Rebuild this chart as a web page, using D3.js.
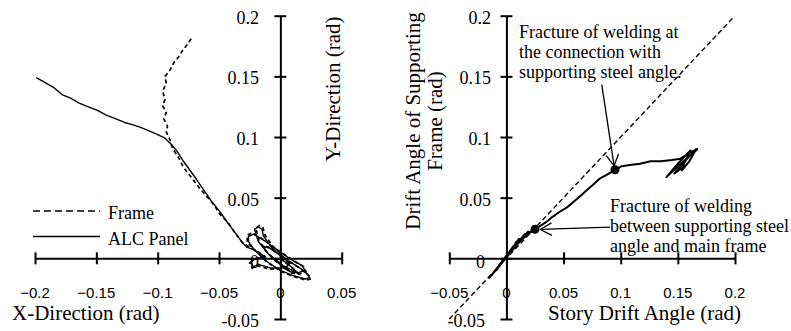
<!DOCTYPE html>
<html><head><meta charset="utf-8">
<script src="https://cdn.jsdelivr.net/npm/d3@7"></script>
<style>
body{margin:0;background:#fff}
svg{display:block}
.serif{font-family:"Liberation Serif","Times New Roman",serif;fill:#000}
.sans{font-family:"Liberation Sans",Arial,sans-serif;fill:#000}
</style></head>
<body>
<svg id="c" width="791" height="331"></svg>
<script>
// ---------- data ----------
const leftXTicks = [-0.2, -0.15, -0.1, -0.05, 0, 0.05];
const leftXTickLabels = ["\u22120.2", "\u22120.15", "\u22120.1", "\u22120.05", "0", "0.05"];
const leftYTicks = [-0.05, 0, 0.05, 0.1, 0.15, 0.2];
const leftYTickLabels = ["-0.05", "0", "0.05", "0.1", "0.15", "0.2"];
const rightXTicks = [-0.05, 0, 0.05, 0.1, 0.15, 0.2];
const rightXTickLabels = ["\u22120.05", "0", "0.05", "0.1", "0.15", "0.2"];
const rightYTicks = [-0.05, 0, 0.05, 0.1, 0.15, 0.2];
const rightYTickLabels = ["-0.05", "0", "0.05", "0.1", "0.15", "0.2"];

const seriesNames = ["Frame", "ALC Panel"];

// X-Direction vs Y-Direction drift (rad)
const alcPanel = [
  [0,0],[0.01,-0.008],[0.014,-0.012],[0.008,-0.011],[-0.004,-0.002],[-0.012,0.006],[-0.014,0.01],[-0.008,0.008],[0.002,0.001],
  [0.016,-0.008],[0.022,-0.013],[0.024,-0.016],[0.02,-0.017],[0.01,-0.014],[0,-0.01],[-0.012,-0.002],[-0.022,0.008],[-0.026,0.014],[-0.026,0.018],[-0.022,0.02],[-0.012,0.014],[0,0.005],[0.012,-0.003],
  [0.018,-0.006],[0.02,-0.01],[0.014,-0.012],[0.002,-0.006],[-0.01,0.004],[-0.018,0.014],[-0.02,0.02],[-0.021,0.024],[-0.018,0.026],[-0.015,0.024],[-0.014,0.019],[-0.008,0.01],[0,0.002],
  [0.008,-0.004],[0.004,-0.008],[-0.008,-0.008],[-0.018,-0.005],[-0.022,-0.007],[-0.024,-0.003],[-0.02,0],[-0.012,0.001],[-0.018,0.005],[-0.024,0.008],[-0.027,0.009],
  [-0.031,0.013],[-0.036,0.02],[-0.042,0.028],[-0.049,0.038],[-0.056,0.047],[-0.063,0.057],[-0.069,0.066],[-0.074,0.073],[-0.079,0.08],[-0.084,0.088],[-0.089,0.094],[-0.094,0.099],[-0.1,0.102],[-0.107,0.105],[-0.114,0.108],[-0.12,0.11],[-0.127,0.112],[-0.134,0.115],[-0.142,0.118],[-0.149,0.122],[-0.157,0.125],[-0.164,0.128],[-0.171,0.132],[-0.178,0.135],[-0.185,0.141],[-0.192,0.145],[-0.199,0.149]
];
const frame = [
  [0,0],[0.011,-0.009],[0.015,-0.013],[0.009,-0.012],[-0.003,-0.003],[-0.011,0.005],[-0.015,0.011],[-0.009,0.009],[0.001,0.002],
  [0.017,-0.009],[0.023,-0.014],[0.025,-0.017],[0.021,-0.018],[0.011,-0.015],[0.001,-0.011],[-0.011,-0.003],[-0.021,0.007],[-0.027,0.013],[-0.027,0.019],[-0.023,0.021],[-0.013,0.015],[-0.001,0.006],[0.011,-0.002],
  [0.019,-0.007],[0.021,-0.011],[0.015,-0.013],[0.003,-0.007],[-0.009,0.003],[-0.017,0.013],[-0.019,0.021],[-0.02,0.025],[-0.017,0.027],[-0.014,0.025],[-0.013,0.02],[-0.007,0.011],[0.001,0.003],
  [0.007,-0.005],[0.003,-0.009],[-0.009,-0.009],[-0.019,-0.006],[-0.023,-0.008],[-0.025,-0.004],[-0.021,-0.001],[-0.013,0.002],[-0.019,0.006],[-0.025,0.009],[-0.028,0.011],
  [-0.031,0.013],[-0.037,0.021],[-0.043,0.03],[-0.049,0.036],[-0.054,0.044],[-0.06,0.051],[-0.066,0.058],[-0.072,0.066],[-0.079,0.075],[-0.083,0.083],[-0.088,0.091],[-0.09,0.098],[-0.093,0.104],[-0.092,0.109],[-0.095,0.115],[-0.093,0.12],[-0.096,0.126],[-0.094,0.131],[-0.096,0.138],[-0.093,0.144],[-0.094,0.15],[-0.09,0.155],[-0.087,0.161],[-0.083,0.166],[-0.08,0.171],[-0.076,0.176],[-0.072,0.182]
];

// Story drift angle vs drift angle of supporting frame (rad)
const supportingFrame = [
  [0,0],[0.006,0.01],[-0.005,-0.005],[0.001,0.003],[0.011,0.016],[-0.009,-0.01],[0,0.001],[0.016,0.02],[-0.013,-0.014],[-0.001,0.001],
  [0.019,0.022],[-0.015,-0.016],[0.002,0.004],[0.012,0.014],[0.021,0.022],[0.008,0.013],[0.025,0.024],[0.03,0.027],[0.035,0.03],[0.04,0.034],
  [0.046,0.038],[0.053,0.042],[0.058,0.046],[0.063,0.05],[0.07,0.056],[0.075,0.06],[0.082,0.066],[0.088,0.069],[0.095,0.073],[0.101,0.076],
  [0.108,0.077],[0.117,0.078],[0.126,0.08],[0.135,0.08],[0.145,0.081],[0.152,0.082],[0.16,0.087],[0.167,0.09],[0.155,0.08],[0.14,0.067],
  [0.15,0.078],[0.161,0.089],[0.154,0.075],[0.147,0.07],[0.158,0.082],[0.166,0.09],[0.16,0.08],[0.153,0.072]
];
const equalLine = [[-0.05,-0.05],[0.198,0.198]];
const fracturePoints = [[0.025,0.024],[0.095,0.073]];

const note1Lines = ["Fracture of welding at", "the connection with", "supporting steel angle."];
const note2Lines = ["Fracture of welding", "between supporting steel", "angle and main frame"];

// ---------- drawing ----------
const svg = d3.select("#c");

function drawAxes(xs, ys, xTicks, yTicks) {
  const gx = svg.append("g").attr("transform", `translate(0,${ys(0)})`)
    .call(d3.axisBottom(xs).tickValues(xTicks).tickSize(6).tickSizeOuter(0).tickFormat(""));
  gx.selectAll(".tick line").attr("y1", -6).attr("y2", 6);
  const gy = svg.append("g").attr("transform", `translate(${xs(0)},0)`)
    .call(d3.axisLeft(ys).tickValues(yTicks).tickSize(6).tickSizeOuter(0).tickFormat(""));
  gy.selectAll(".tick line").attr("x1", -6).attr("x2", 6);
  [gx, gy].forEach(g => {
    g.select(".domain").attr("stroke", "#000").attr("stroke-width", 2);
    g.selectAll(".tick line").attr("stroke", "#000").attr("stroke-width", 2);
  });
}

// Left chart
const xL = d3.scaleLinear().domain([-0.2, 0.05]).range([35, 341.7]);
const yL = d3.scaleLinear().domain([-0.05, 0.2]).range([319, 15.7]);
drawAxes(xL, yL, leftXTicks, leftYTicks);

svg.append("g").selectAll("text").data(leftXTicks).join("text")
  .attr("class", "sans").attr("font-size", 15).attr("text-anchor", "middle")
  .attr("x", d => xL(d)).attr("y", 298)
  .text((d, i) => leftXTickLabels[i]);
svg.append("g").selectAll("text").data(leftYTicks).join("text")
  .attr("class", "serif").attr("font-size", 18).attr("text-anchor", "end")
  .attr("x", 259).attr("y", d => yL(d) + 8 + (d === 0 ? 2 : 0))
  .text((d, i) => leftYTickLabels[i]);

const lineL = d3.line().x(d => xL(d[0])).y(d => yL(d[1]));
svg.append("path").datum(alcPanel).attr("d", lineL)
  .attr("fill", "none").attr("stroke", "#000").attr("stroke-width", 1.4).attr("stroke-linejoin", "round");
svg.append("path").datum(frame).attr("d", lineL)
  .attr("fill", "none").attr("stroke", "#000").attr("stroke-width", 1.7).attr("stroke-dasharray", "4,3");

// legend
const legend = svg.append("g");
seriesNames.forEach((name, i) => {
  const y = 211 + i * 25.5;
  legend.append("line").attr("x1", 33).attr("x2", 100).attr("y1", y).attr("y2", y)
    .attr("stroke", "#000").attr("stroke-width", 1.5)
    .attr("stroke-dasharray", i === 0 ? "7,4" : null);
  legend.append("text").attr("class", "serif").attr("font-size", 18)
    .attr("x", 108).attr("y", y + 8).text(name);
});

svg.append("text").attr("class", "serif").attr("font-size", 21)
  .attr("x", 12).attr("y", 320).text("X-Direction (rad)");
svg.append("text").attr("class", "serif").attr("font-size", 21).attr("text-anchor", "middle")
  .attr("transform", "translate(340,89) rotate(-90)").text("Y-Direction (rad)");

// Right chart
const xR = d3.scaleLinear().domain([-0.05, 0.2]).range([449.3, 735]);
const yR = d3.scaleLinear().domain([-0.05, 0.2]).range([319, 15.7]);
drawAxes(xR, yR, rightXTicks, rightYTicks);

svg.append("g").selectAll("text").data(rightXTicks).join("text")
  .attr("class", "sans").attr("font-size", 15).attr("text-anchor", "middle")
  .attr("x", d => xR(d)).attr("y", 298)
  .text((d, i) => rightXTickLabels[i]);
svg.append("g").selectAll("text").data(rightYTicks).join("text")
  .attr("class", "serif").attr("font-size", 18).attr("text-anchor", "end")
  .attr("x", d => d <= 0 ? 485 : 491).attr("y", d => yR(d) + 8 + (d === 0 ? 2 : 0))
  .text((d, i) => rightYTickLabels[i]);

const lineR = d3.line().x(d => xR(d[0])).y(d => yR(d[1]));
svg.append("path").datum(equalLine).attr("d", lineR)
  .attr("fill", "none").attr("stroke", "#000").attr("stroke-width", 1.4).attr("stroke-dasharray", "5,3");
svg.append("path").datum(supportingFrame).attr("d", lineR)
  .attr("fill", "none").attr("stroke", "#000").attr("stroke-width", 2).attr("stroke-linejoin", "round");
svg.append("g").selectAll("circle").data(fracturePoints).join("circle")
  .attr("cx", d => xR(d[0])).attr("cy", d => yR(d[1])).attr("r", 4.5).attr("fill", "#000");

// annotations
function arrow(from, to) {
  const x1 = xR(from[0]), y1 = yR(from[1]), x2 = xR(to[0]), y2 = yR(to[1]);
  const ang = Math.atan2(y2 - y1, x2 - x1);
  const L = 13, a = 0.5;
  svg.append("line").attr("x1", x1).attr("y1", y1).attr("x2", x2).attr("y2", y2)
    .attr("stroke", "#000").attr("stroke-width", 1.3);
  [-a, a].forEach(s => {
    svg.append("line").attr("x1", x2).attr("y1", y2)
      .attr("x2", x2 - L * Math.cos(ang + s)).attr("y2", y2 - L * Math.sin(ang + s))
      .attr("stroke", "#000").attr("stroke-width", 1.3);
  });
}
arrow([0.0834, 0.1432], [0.0942, 0.0762]);
arrow([0.0907, 0.0257], [0.0296, 0.0238]);

const n1 = svg.append("text").attr("class", "serif").attr("font-size", 18);
note1Lines.forEach((t, i) => n1.append("tspan").attr("x", 519).attr("y", 38 + i * 20).text(t));
const n2 = svg.append("text").attr("class", "serif").attr("font-size", 18);
note2Lines.forEach((t, i) => n2.append("tspan").attr("x", 610).attr("y", 212 + i * 20).text(t));

const yt = svg.append("text").attr("class", "serif").attr("font-size", 21).attr("text-anchor", "middle")
  .attr("transform", "translate(420,121) rotate(-90)");
yt.append("tspan").attr("x", 0).attr("y", 0).text("Drift Angle of Supporting");
yt.append("tspan").attr("x", 0).attr("y", 22).text("Frame (rad)");

svg.append("text").attr("class", "serif").attr("font-size", 21)
  .attr("x", 548).attr("y", 320).text("Story Drift Angle (rad)");
</script>
</body></html>
